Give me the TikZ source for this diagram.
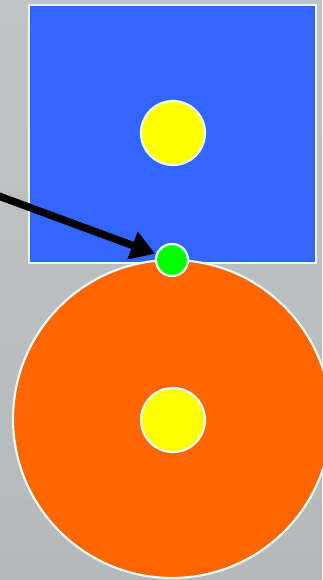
\documentclass[tikz,border=0pt]{standalone}
\usepackage{xcolor}
\usepackage{tikz}
\usetikzlibrary{arrows.meta, positioning, calc}
\definecolor{mybg}{RGB}{193,195,196}
\definecolor{mybgdark}{RGB}{182,184,186}
\definecolor{myblue}{RGB}{51,102,255}
\definecolor{myorange}{RGB}{255,102,0}
\definecolor{myyellow}{RGB}{255,255,0}
\definecolor{mygreen}{RGB}{0,255,0}
\definecolor{myrim}{RGB}{232,250,250}
\tikzset{
  rim/.style={draw=myrim, line width=2.2pt},
  disc/.style={circle, rim, inner sep=0pt},
  pointer/.style={-{Triangle[length=24pt, width=28pt]}, line width=7.5pt, color=black}
}

\begin{document}
\begin{tikzpicture}[x=1pt, y=-1pt]
  % Background
  \shade[top color=mybg, bottom color=mybgdark] (0,0) rectangle (322,580);
  \useasboundingbox (0,0) rectangle (322,580);

  % Blue square and orange disc
  \node[rectangle, rim, fill=myblue, minimum width=287pt, minimum height=258pt, inner sep=0pt] (square) at (172.5, 134) {};
  \node[disc, fill=myorange, minimum size=318pt] (ball) at (172, 419) {};

  % Yellow centres
  \node[disc, fill=myyellow, minimum size=64pt] (sqcore) at (173, 133) {};
  \node[disc, fill=myyellow, minimum size=64pt] (ballcore) at (173, 420) {};

  % Contact point
  \node[disc, fill=mygreen, minimum size=32pt] (contact) at (172, 260) {};

  % Arrow
  \coordinate (from) at (-4, 195);
  \draw[pointer, shorten >=1pt] (from) -- (contact);
\end{tikzpicture}
\end{document}
